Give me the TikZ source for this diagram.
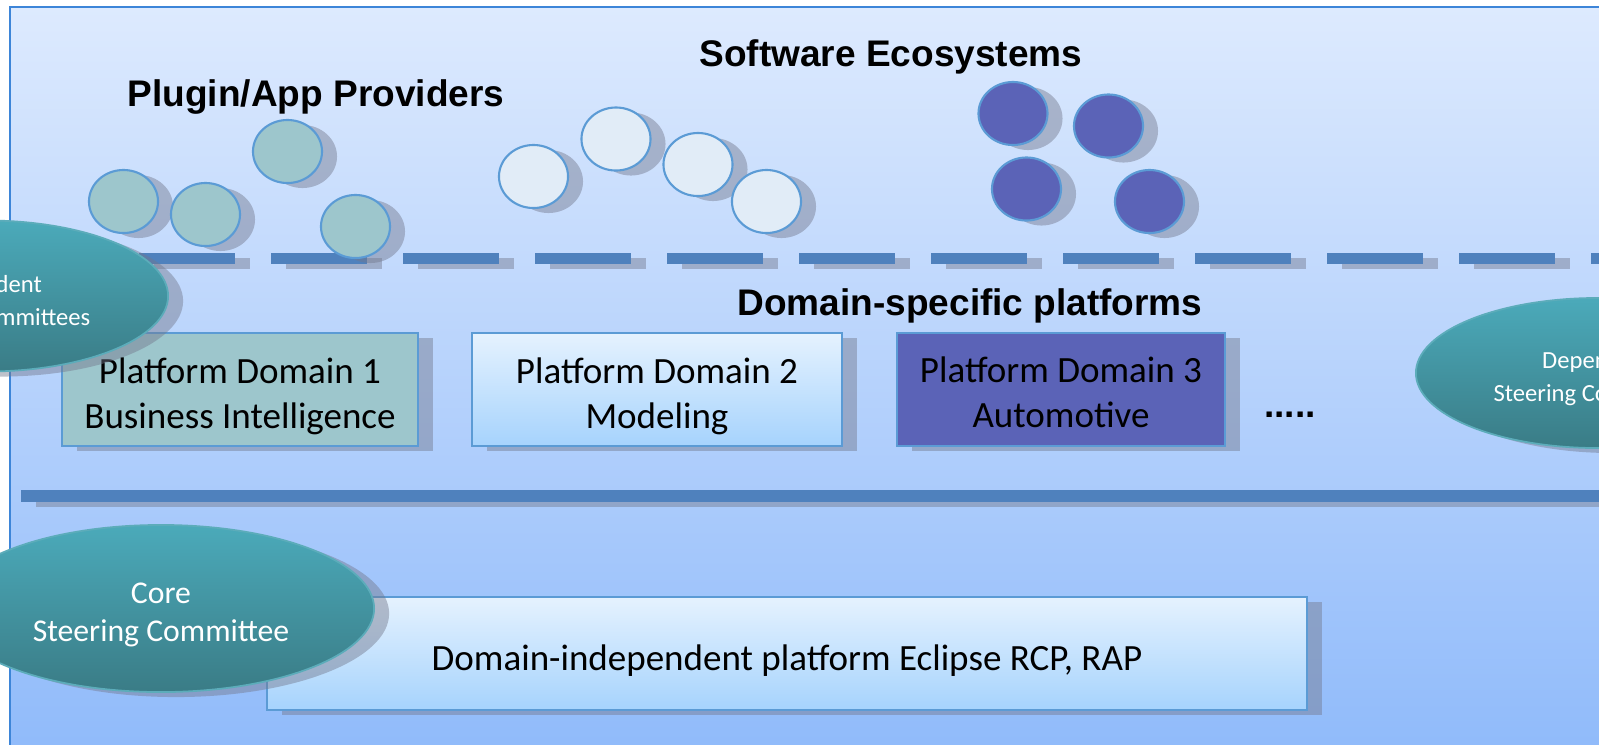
\documentclass[tikz,border=0pt]{standalone}
\usepackage{fontspec}
\setmainfont{Carlito}
\newfontfamily\hdrfont{Liberation Sans}
\usetikzlibrary{shapes.geometric,shadows}
\definecolor{bgtop}{RGB}{221,234,254}
\definecolor{bgbot}{RGB}{143,186,250}
\definecolor{bgborder}{RGB}{61,133,216}
\definecolor{barblue}{RGB}{79,129,189}
\definecolor{shadowgray}{RGB}{115,120,140}
\definecolor{circborder}{RGB}{91,155,213}
\definecolor{tealfill}{RGB}{157,198,204}
\definecolor{palefill}{RGB}{225,236,247}
\definecolor{indigofill}{RGB}{91,99,183}
\definecolor{gradtop}{RGB}{229,242,254}
\definecolor{gradbot}{RGB}{166,211,253}
\definecolor{ellTop}{RGB}{75,170,186}
\definecolor{ellBot}{RGB}{58,124,134}
\definecolor{ellBorder}{RGB}{92,172,186}
\begin{document}
\begin{tikzpicture}[x=0.01cm,y=-0.01cm,
  shad/.style={drop shadow={shadow xshift=0.15cm,shadow yshift=-0.05cm,opacity=0.45,fill=shadowgray}},
  bubble/.style={ellipse,minimum width=0.69cm,minimum height=0.63cm,inner sep=0pt,draw=circborder,line width=0.6pt,shad},
  pdbox/.style={rectangle,draw=circborder,line width=0.6pt,inner sep=0pt,shad},
  boxtext/.style={inner sep=0pt,align=center,font={\fontsize{10.53}{12.8}\selectfont}},
  committee/.style={ellipse,inner sep=0pt,draw=ellBorder,line width=0.5pt,top color=ellTop,bottom color=ellBot,shad},
  smalltext/.style={inner sep=0pt,align=center,text=white,font={\fontsize{7}{9.4}\selectfont}},
  coretext/.style={inner sep=0pt,align=center,text=white,font={\fontsize{9.02}{10.8}\selectfont}},
  header/.style={font={\hdrfont\bfseries\fontsize{10.53}{12.6}\selectfont}}
]
\useasboundingbox (0,0) rectangle (1599,744);
\clip (0,0) rectangle (1599,744);
% background
\fill[white] (0,0) rectangle (1599,744);
\draw[bgborder,line width=0.6pt,top color=bgtop,bottom color=bgbot] (10,7) rectangle (1620,760);
% dashed separator
\foreach \x in {7,139,271,...,1591} {
  \fill[shadowgray,opacity=0.45] (\x+15,258) rectangle (\x+111,269);
  \fill[barblue] (\x,253) rectangle (\x+96,264);
}
% long separator
\fill[shadowgray,opacity=0.45] (36,495) rectangle (1620,507);
\fill[barblue] (21,490) rectangle (1620,502);
% headers
\node[header] (swe) at (891,57) {Software Ecosystems};
\node[header] (pap) at (316,97) {Plugin/App Providers};
\node[header] (dsp) at (970,306) {Domain-specific platforms};
% bubbles group 1
\node[bubble,fill=tealfill] (a1) at (123.5,201.5) {};
\node[bubble,fill=tealfill] (a2) at (205.5,214.5) {};
\node[bubble,fill=tealfill] (a3) at (287.5,151.5) {};
\node[bubble,fill=tealfill] (a4) at (355.5,226.5) {};
% bubbles group 2
\node[bubble,fill=palefill] (b1) at (533.5,176.5) {};
\node[bubble,fill=palefill] (b2) at (616,139) {};
\node[bubble,fill=palefill] (b3) at (698,164.5) {};
\node[bubble,fill=palefill] (b4) at (766.5,201.5) {};
% bubbles group 3
\node[bubble,fill=indigofill] (c1) at (1013,113.5) {};
\node[bubble,fill=indigofill] (c2) at (1108.5,126) {};
\node[bubble,fill=indigofill] (c3) at (1026.5,189) {};
\node[bubble,fill=indigofill] (c4) at (1149.5,201.5) {};
% platform boxes
\node[pdbox,fill=tealfill,minimum width=3.56cm,minimum height=1.13cm] (p1) at (240,389.5) {};
\node[boxtext] (p1t) at ([yshift=-0.065cm]p1.center) {Platform Domain 1\\Business Intelligence};
\node[pdbox,top color=gradtop,bottom color=gradbot,minimum width=3.70cm,minimum height=1.13cm] (p2) at (657,389.5) {};
\node[boxtext] (p2t) at ([yshift=-0.065cm]p2.center) {Platform Domain 2\\Modeling};
\node[pdbox,fill=indigofill,minimum width=3.28cm,minimum height=1.13cm] (p3) at (1061,389.5) {};
\node[boxtext] (p3t) at ([yshift=-0.03cm]p3.center) {Platform Domain 3\\Automotive};
\node[header,anchor=base] (dots) at (1290,417) {.....};
\node[pdbox,top color=gradtop,bottom color=gradbot,minimum width=10.40cm,minimum height=1.13cm] (core) at (787,653.5) {};
\node[boxtext] (coret) at ([yshift=-0.07cm]core.center) {Domain-independent platform Eclipse RCP, RAP};
% committees
\node[committee,minimum width=3.64cm,minimum height=1.51cm] (depL) at (-14,296) {};
\node[smalltext] (depLt) at ([yshift=-0.07cm]depL.center) {Dependent\\Steering Committees};
\node[committee,minimum width=3.64cm,minimum height=1.50cm] (depR) at (1598,373) {};
\node[smalltext] (depRt) at ([yshift=-0.06cm]depR.center) {Dependent\\Steering Committees};
\node[committee,minimum width=4.26cm,minimum height=1.67cm] (csc) at (161,608.5) {};
\node[coretext] (csct) at ([yshift=-0.065cm]csc.center) {Core\\Steering Committee};
\end{tikzpicture}
\end{document}
